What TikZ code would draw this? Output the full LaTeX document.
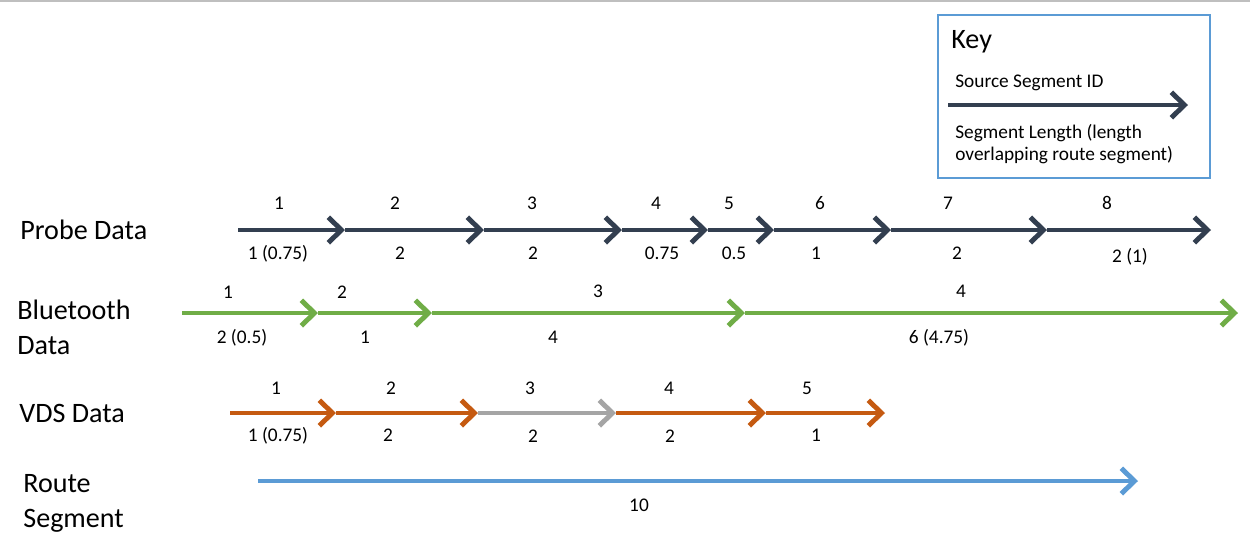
\documentclass[tikz,border=0pt]{standalone}
\usepackage{fontspec}
\setmainfont{Carlito}
\usetikzlibrary{arrows.meta}

\definecolor{navy}{HTML}{333F50}
\definecolor{btgreen}{HTML}{70AD47}
\definecolor{vdsorange}{HTML}{C55A11}
\definecolor{midgray}{HTML}{A5A5A5}
\definecolor{keyblue}{HTML}{5B9BD5}

\begin{document}
\begin{tikzpicture}[x=0.02cm, y=-0.02cm,
    every node/.style={inner sep=0pt, font=\fontsize{11}{12.3}\selectfont},
    seg/.style={line width=2.8pt, -{Straight Barb[length=7.5pt,width=14.5pt]}},
    lbl/.style={anchor=base},
    row/.style={anchor=base west, align=left, font=\fontsize{16}{19.8}\selectfont}]

    \useasboundingbox (0,0) rectangle (1250,548);
    \draw[black!25, line width=1.2pt] (0,1) -- (1250,1);

    % key
    \draw[keyblue, line width=1.1pt] (938,15) rectangle (1210,178);
    \node[anchor=base west, font=\fontsize{16}{18}\selectfont] (key) at (951,48) {Key};
    \node[anchor=base west] (keyid) at (955,87) {Source Segment ID};
    \coordinate (k0) at (948,105);
    \coordinate (k1) at (1188,105);
    \draw[seg, navy] (k0) -- (k1);
    \node[anchor=base west, align=left] (keylen) at (955,160) {Segment Length (length\\overlapping route segment)};

    % probe data
    \node[row] (probe) at (20,239) {Probe Data};
    \coordinate (p0) at (238,230);
    \coordinate (p1) at (345,230);
    \coordinate (p2) at (484,230);
    \coordinate (p3) at (622,230);
    \coordinate (p4) at (708,230);
    \coordinate (p5) at (774,230);
    \coordinate (p6) at (891,230);
    \coordinate (p7) at (1047,230);
    \coordinate (p8) at (1211,230);
    \draw[seg, navy] (p0) -- (p1);
    \draw[seg, navy] (p1) -- (p2);
    \draw[seg, navy] (p2) -- (p3);
    \draw[seg, navy] (p3) -- (p4);
    \draw[seg, navy] (p4) -- (p5);
    \draw[seg, navy] (p5) -- (p6);
    \draw[seg, navy] (p6) -- (p7);
    \draw[seg, navy] (p7) -- (p8);
    \node[lbl] (pid1) at (279,209) {1};
    \node[lbl] (pid2) at (395,209) {2};
    \node[lbl] (pid3) at (532,209) {3};
    \node[lbl] (pid4) at (656,209) {4};
    \node[lbl] (pid5) at (729,209) {5};
    \node[lbl] (pid6) at (820,209) {6};
    \node[lbl] (pid7) at (948,209) {7};
    \node[lbl] (pid8) at (1107,209) {8};
    \node[lbl] (plen1) at (278,259) {1 (0.75)};
    \node[lbl] (plen2) at (400,259) {2};
    \node[lbl] (plen3) at (533,259) {2};
    \node[lbl] (plen4) at (662,259) {0.75};
    \node[lbl] (plen5) at (734,259) {0.5};
    \node[lbl] (plen6) at (816,259) {1};
    \node[lbl] (plen7) at (957,259) {2};
    \node[lbl] (plen8) at (1130,262) {2 (1)};

    % bluetooth data
    \node[row] (bt) at (17,354) {Bluetooth\\Data};
    \coordinate (b0) at (182,313);
    \coordinate (b1) at (318,313);
    \coordinate (b2) at (432,313);
    \coordinate (b3) at (745,313);
    \coordinate (b4) at (1238,313);
    \draw[seg, btgreen] (b0) -- (b1);
    \draw[seg, btgreen] (b1) -- (b2);
    \draw[seg, btgreen] (b2) -- (b3);
    \draw[seg, btgreen] (b3) -- (b4);
    \node[lbl] (bid1) at (228,298) {1};
    \node[lbl] (bid2) at (342,298) {2};
    \node[lbl] (bid3) at (598,297) {3};
    \node[lbl] (bid4) at (961,297) {4};
    \node[lbl] (blen1) at (242,343) {2 (0.5)};
    \node[lbl] (blen2) at (365,343) {1};
    \node[lbl] (blen3) at (553,343) {4};
    \node[lbl] (blen4) at (939,343) {6 (4.75)};

    % vds data
    \node[row] (vds) at (19,422) {VDS Data};
    \coordinate (v0) at (230,413);
    \coordinate (v1) at (336,413);
    \coordinate (v2) at (478,413);
    \coordinate (v3) at (616,413);
    \coordinate (v4) at (766,413);
    \coordinate (v5) at (885,413);
    \draw[seg, vdsorange] (v0) -- (v1);
    \draw[seg, vdsorange] (v1) -- (v2);
    \draw[seg, midgray] (v2) -- (v3);
    \draw[seg, vdsorange] (v3) -- (v4);
    \draw[seg, vdsorange] (v4) -- (v5);
    \node[lbl] (vid1) at (276,394) {1};
    \node[lbl] (vid2) at (391,394) {2};
    \node[lbl] (vid3) at (530,394) {3};
    \node[lbl] (vid4) at (669,394) {4};
    \node[lbl] (vid5) at (807,394) {5};
    \node[lbl] (vlen1) at (278,441) {1 (0.75)};
    \node[lbl] (vlen2) at (388,441) {2};
    \node[lbl] (vlen3) at (533,442) {2};
    \node[lbl] (vlen4) at (670,442) {2};
    \node[lbl] (vlen5) at (816,441) {1};

    % route segment
    \node[row] (route) at (23,527) {Route\\Segment};
    \coordinate (r0) at (258,481);
    \coordinate (r1) at (1138,481);
    \draw[seg, keyblue] (r0) -- (r1);
    \node[lbl] (rlen) at (639,511) {10};
\end{tikzpicture}
\end{document}
